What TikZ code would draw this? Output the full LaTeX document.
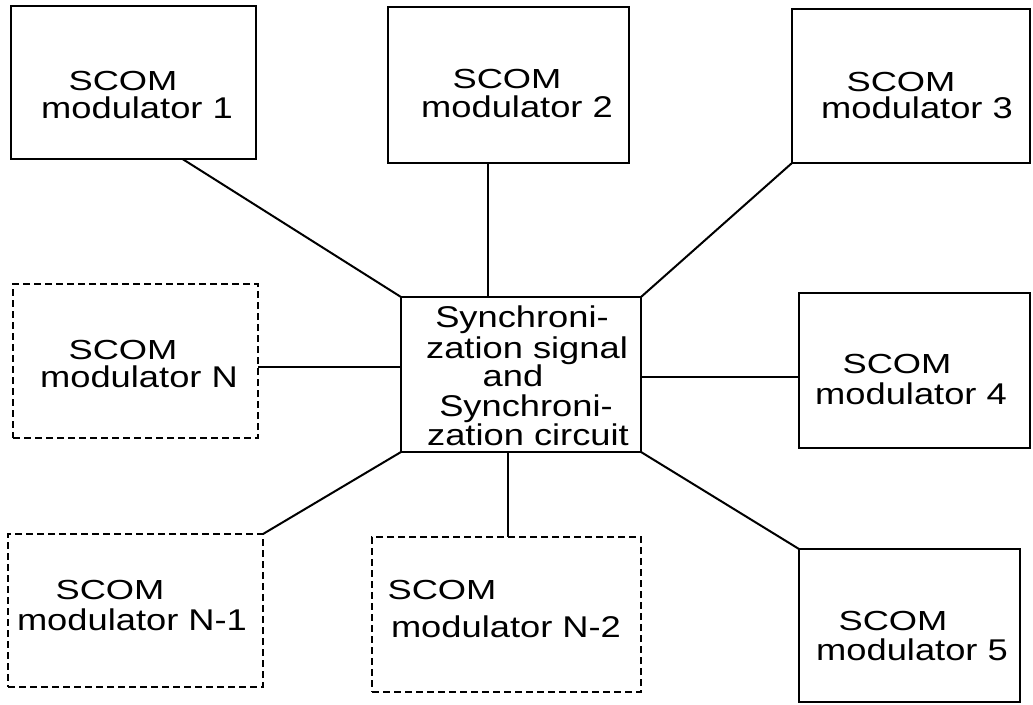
\documentclass[tikz,border=0pt]{standalone}
\usepackage{graphicx}
\usepackage{fontspec}
\setmainfont{Liberation Sans}
\usetikzlibrary{calc}
\newcommand\wtxt[1]{\scalebox{1.21}[1]{#1}}
\newcommand\stxt[1]{\scalebox{1.21}[0.92]{#1}}
\tikzset{
  modbox/.style={draw, line width=2pt, inner sep=0pt, outer sep=0pt},
  dashbox/.style={modbox, line width=1.8pt, dash pattern=on 7pt off 4pt},
  txt/.style={anchor=base, inner sep=0pt, font=\fontsize{30}{30}\selectfont},
  wire/.style={line width=2pt}
}
\begin{document}
\begin{tikzpicture}[x=1pt,y=-1pt]
\useasboundingbox (0,0) rectangle (1033,704);
% boxes
\node[modbox, minimum width=245pt, minimum height=153pt] (b1) at (133.5,82.5) {};
\node[modbox, minimum width=241pt, minimum height=156pt] (b2) at (508.5,85) {};
\node[modbox, minimum width=238pt, minimum height=154pt] (b3) at (911,86) {};
\node[modbox, minimum width=231pt, minimum height=155pt] (b4) at (914.5,370.5) {};
\node[modbox, minimum width=221pt, minimum height=153pt] (b5) at (909.5,625.5) {};
\node[modbox, minimum width=240pt, minimum height=155pt] (c) at (521,374.5) {};
\node[dashbox, minimum width=245pt, minimum height=154pt] (bN) at (135.5,361) {};
\node[dashbox, minimum width=255pt, minimum height=153pt] (bN1) at (135.5,610.5) {};
\node[dashbox, minimum width=269pt, minimum height=155pt] (bN2) at (506.5,614.5) {};
% texts
\node[txt] (t1a) at (123,90) {\stxt{SCOM}};
\node[txt] (t1b) at (137,118) {\wtxt{modulator 1}};
\node[txt] (t2a) at (507,88) {\stxt{SCOM}};
\node[txt] (t2b) at (517,117) {\wtxt{modulator 2}};
\node[txt] (t3a) at (901,91) {\stxt{SCOM}};
\node[txt] (t3b) at (917,118) {\wtxt{modulator 3}};
\node[txt] (tNa) at (123,359) {\stxt{SCOM}};
\node[txt] (tNb) at (139,387) {\wtxt{modulator N}};
\node[txt] (t4a) at (897,373) {\stxt{SCOM}};
\node[txt] (t4b) at (911,404) {\wtxt{modulator 4}};
\node[txt] (tN1a) at (110,599) {\stxt{SCOM}};
\node[txt] (tN1b) at (132,630) {\wtxt{modulator N-1}};
\node[txt] (tN2a) at (442,599) {\stxt{SCOM}};
\node[txt] (tN2b) at (506,637) {\wtxt{modulator N-2}};
\node[txt] (t5a) at (893,630) {\stxt{SCOM}};
\node[txt] (t5b) at (912,660) {\wtxt{modulator 5}};
\node[txt] (tc1) at (522,327) {\wtxt{Synchroni-}};
\node[txt] (tc2) at (527,358) {\wtxt{zation signal}};
\node[txt] (tc3) at (513,386) {\wtxt{and}};
\node[txt] (tc4) at (526,416) {\wtxt{Synchroni-}};
\node[txt] (tc5) at (528,445) {\wtxt{zation circuit}};
% connectors
\draw[wire] ($(b1.south west)!0.7!(b1.south east)$) -- (c.north west);
\draw[wire] ([xshift=100pt]b2.south west) -- ([xshift=100pt]b2.south west |- c.north);
\draw[wire] (b3.south west) -- (c.north east);
\draw[wire] ([yshift=-6pt]bN.east) -- ([yshift=-6pt]bN.east -| c.west);
\draw[wire] ([yshift=-2.5pt]c.east) -- ([yshift=-2.5pt]c.east -| b4.west);
\draw[wire] (c.south west) -- (bN1.north east);
\draw[wire] ([xshift=107pt]c.south west) -- ([xshift=107pt]c.south west |- bN2.north);
\draw[wire] (c.south east) -- (b5.north west);
\end{tikzpicture}
\end{document}
